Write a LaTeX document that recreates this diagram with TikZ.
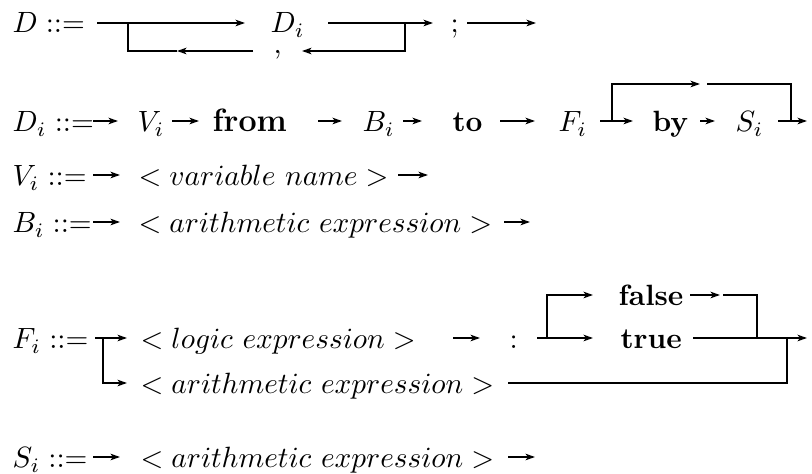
\documentclass[tikz,border=0pt]{standalone}
\usetikzlibrary{arrows.meta}
\begin{document}
\begin{tikzpicture}[x=0.341pt,y=-0.341pt,
  txt/.style={inner sep=0pt, anchor=base west},
  kw/.style={txt, font=\bfseries},
  syn/.style={line width=0.7pt, line join=miter},
  arr/.style={syn, -{Stealth[length=3.2pt,width=2.2pt,inset=0.8pt]}}]
\useasboundingbox (0,0) rectangle (812,474);

% ---------- row 1 : D ::=
\node[txt] (dl)    at (12,33)  {$D ::=$};
\node[txt] (di)    at (270,33) {$D_i$};
\node[txt] (semi)  at (450,33) {;};
\node[txt] (comma) at (273,54) {,};
\coordinate (r1a) at (97,23);  \coordinate (r1b) at (245,23);
\coordinate (r1c) at (328,23); \coordinate (r1d) at (433,23);
\coordinate (r1e) at (467,23); \coordinate (r1f) at (536,23);
\coordinate (l1a) at (405,23); \coordinate (l1b) at (405,51);
\coordinate (l1c) at (302,51); \coordinate (l1d) at (253,51);
\coordinate (l1e) at (177,51); \coordinate (l1f) at (128,51);
\coordinate (l1g) at (128,23);
\draw[arr] (r1a) -- (r1b);
\draw[arr] (r1c) -- (r1d);
\draw[arr] (r1e) -- (r1f);
\draw[arr] (l1a) -- (l1b) -- (l1c);
\draw[arr] (l1d) -- (l1e);
\draw[syn] (l1e) -- (l1f) -- (l1g);

% ---------- row 2 : D_i ::=
\node[txt] (dil)  at (12,132)  {$D_i ::=$};
\node[txt] (vi)   at (137,132) {$V_i$};
\node[kw, font=\fontsize{11}{13}\selectfont\bfseries] (from) at (212,132) {from};
\node[txt] (bi)   at (362,132) {$B_i$};
\node[kw]  (to)   at (452,132) {to};
\node[txt] (fi)   at (558,132) {$F_i$};
\node[kw]  (by)   at (652,132) {by};
\node[txt] (si)   at (735,132) {$S_i$};
\coordinate (r2a) at (93,121);  \coordinate (r2b) at (118,121);
\coordinate (r2c) at (172,121); \coordinate (r2d) at (199,121);
\coordinate (r2e) at (318,121); \coordinate (r2f) at (342,121);
\coordinate (r2g) at (403,121); \coordinate (r2h) at (422,121);
\coordinate (r2i) at (500,121); \coordinate (r2j) at (535,121);
\coordinate (r2k) at (600,121); \coordinate (r2l) at (633,121);
\coordinate (r2m) at (700,121); \coordinate (r2n) at (715,121);
\coordinate (r2o) at (778,121); \coordinate (r2p) at (807,121);
\coordinate (b2a) at (612,121); \coordinate (b2b) at (612,84);
\coordinate (b2c) at (700,84);  \coordinate (b2d) at (707,84);
\coordinate (b2e) at (791,84);  \coordinate (b2f) at (791,121);
\draw[arr] (r2a) -- (r2b);
\draw[arr] (r2c) -- (r2d);
\draw[arr] (r2e) -- (r2f);
\draw[arr] (r2g) -- (r2h);
\draw[arr] (r2i) -- (r2j);
\draw[arr] (r2k) -- (r2l);
\draw[arr] (r2m) -- (r2n);
\draw[arr] (r2o) -- (r2p);
\draw[arr] (b2a) -- (b2b) -- (b2c);
\draw[syn] (b2d) -- (b2e) -- (b2f);

% ---------- row 3 : V_i ::=
\node[txt] (vil) at (12,186)  {$V_i ::=$};
\node[txt] (vn)  at (138,186) {$<variable\ name>$};
\coordinate (r3a) at (93,175);  \coordinate (r3b) at (120,175);
\coordinate (r3c) at (398,175); \coordinate (r3d) at (428,175);
\draw[arr] (r3a) -- (r3b);
\draw[arr] (r3c) -- (r3d);

% ---------- row 4 : B_i ::=
\node[txt] (bil) at (12,233)  {$B_i ::=$};
\node[txt] (ba)  at (138,233) {$<arithmetic\ expression>$};
\coordinate (r4a) at (93,222);  \coordinate (r4b) at (120,222);
\coordinate (r4c) at (504,222); \coordinate (r4d) at (530,222);
\draw[arr] (r4a) -- (r4b);
\draw[arr] (r4c) -- (r4d);

% ---------- row 5 : F_i ::=
\node[txt] (fil)   at (12,349)  {$F_i ::=$};
\node[txt] (le)    at (140,349) {$<logic\ expression>$};
\node[txt] (col)   at (509,349) {:};
\node[kw]  (false) at (618,306) {false};
\node[kw]  (true)  at (620,349) {true};
\node[txt] (fa)    at (140,394) {$<arithmetic\ expression>$};
\coordinate (f1) at (95,338);  \coordinate (f2) at (127,338);
\coordinate (f3) at (103,338); \coordinate (f4) at (103,383);
\coordinate (f5) at (127,383);
\coordinate (f6) at (453,338); \coordinate (f7) at (480,338);
\coordinate (f8) at (537,338); \coordinate (f9) at (593,338);
\coordinate (g1) at (547,338); \coordinate (g2) at (547,295);
\coordinate (g3) at (593,295);
\coordinate (g4) at (690,295); \coordinate (g5) at (720,295);
\coordinate (g6) at (723,295); \coordinate (g7) at (757,295);
\coordinate (g8) at (757,338);
\coordinate (h1) at (693,338); \coordinate (h2) at (807,338);
\coordinate (h3) at (508,383); \coordinate (h4) at (787,383);
\coordinate (h5) at (787,338);
\draw[arr] (f1) -- (f2);
\draw[arr] (f3) -- (f4) -- (f5);
\draw[arr] (f6) -- (f7);
\draw[arr] (f8) -- (f9);
\draw[arr] (g1) -- (g2) -- (g3);
\draw[arr] (g4) -- (g5);
\draw[syn] (g6) -- (g7) -- (g8);
\draw[arr] (h1) -- (h2);
\draw[syn] (h3) -- (h4) -- (h5);

% ---------- row 6 : S_i ::=
\node[txt] (sil) at (12,468)  {$S_i ::=$};
\node[txt] (sa)  at (140,468) {$<arithmetic\ expression>$};
\coordinate (r6a) at (93,457);  \coordinate (r6b) at (120,457);
\coordinate (r6c) at (508,457); \coordinate (r6d) at (535,457);
\draw[arr] (r6a) -- (r6b);
\draw[arr] (r6c) -- (r6d);
\end{tikzpicture}
\end{document}
